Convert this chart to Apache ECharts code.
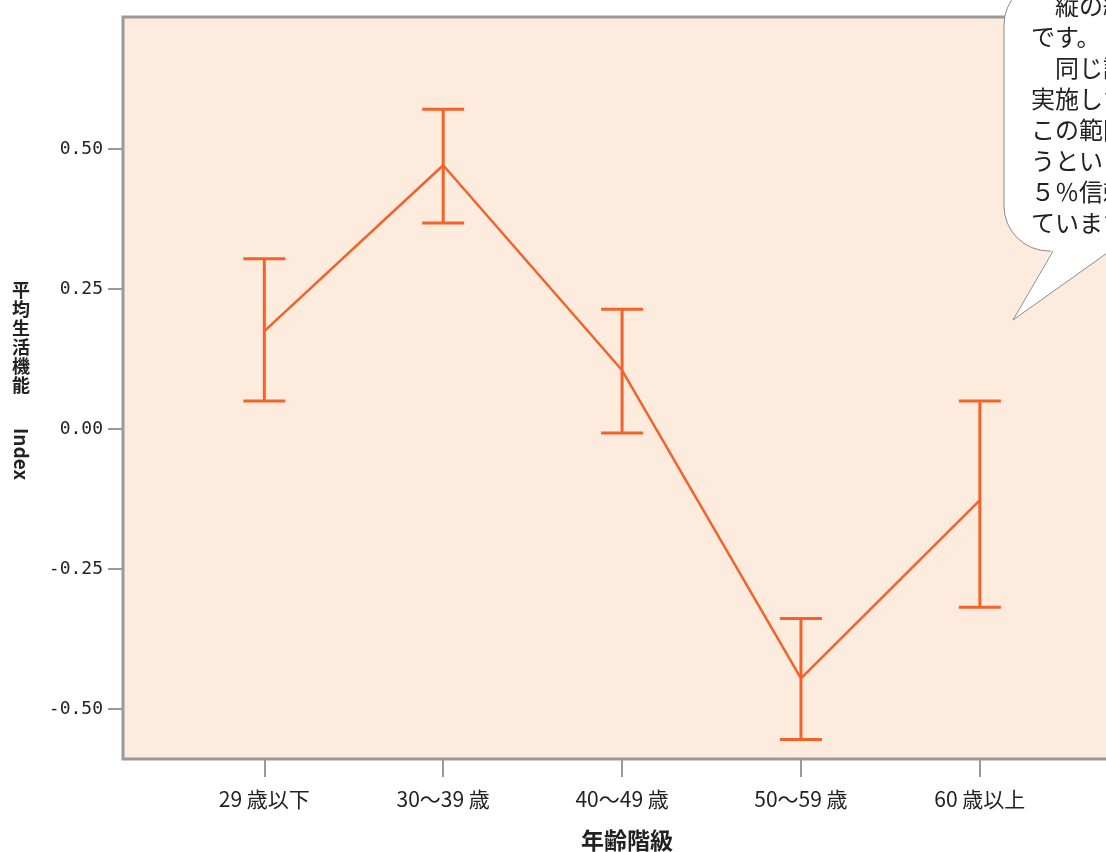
<!DOCTYPE html>
<html>
<head>
<meta charset="utf-8">
<script src="https://cdn.jsdelivr.net/npm/echarts@6/dist/echarts.min.js"></script>
<style>
  html, body { margin: 0; padding: 0; background: #fff; }
  #chart { width: 1106px; height: 852px; }
</style>
</head>
<body>
<div id="chart"></div>
<script>
// age groups and mean index with 95% CI
const categories = ['29 歳以下', '30〜39 歳', '40〜49 歳', '50〜59 歳', '60 歳以上']
const means = [0.175, 0.471, 0.105, -0.445, -0.127]
const ciLow = [0.050, 0.368, -0.007, -0.554, -0.318]
const ciHigh = [0.304, 0.571, 0.214, -0.338, 0.050]
const yTicks = [-0.5, -0.25, 0, 0.25, 0.5]
const bubbleLines = [
  '　縦の線は平均値の95％信頼区間',
  'です。',
  '　同じ調査を100回',
  '実施したら、95回は',
  'この範囲に平均値が入るだろ',
  'うという区間で、これを９',
  '５％信頼区間と呼んで表し',
  'ています。'
]

const orange = '#F4622A'
const chart = echarts.init(document.getElementById('chart'))

const meanData = means.map((v, i) => [i, v])
const ciData = categories.map((c, i) => [i, ciLow[i], ciHigh[i]])

const option = {
  animation: false,
  grid: {
    left: 123,
    top: 17,
    width: 1008,
    height: 742,
    outerBoundsMode: 'none',
    containLabel: false,
    show: true,
    backgroundColor: '#FDEBDE',
    borderColor: '#999999',
    borderWidth: 3
  },
  xAxis: {
    type: 'value',
    min: -0.79,
    max: 4.845,
    splitLine: { show: false },
    axisLine: { show: false, onZero: false },
    axisTick: {
      show: true,
      customValues: [0, 1, 2, 3, 4],
      length: 18,
      lineStyle: { color: '#999999', width: 2 }
    },
    axisLabel: {
      customValues: [0, 1, 2, 3, 4],
      formatter: v => categories[Math.round(v)],
      margin: 30,
      color: '#222',
      fontSize: 21,
      fontFamily: 'Noto Sans CJK JP'
    }
  },
  yAxis: {
    type: 'value',
    min: -0.589,
    max: 0.7357,
    splitLine: { show: false },
    axisLine: { show: false, onZero: false },
    axisTick: {
      show: true,
      customValues: yTicks,
      length: 15,
      lineStyle: { color: '#999999', width: 2 }
    },
    axisLabel: {
      customValues: yTicks,
      formatter: v => v.toFixed(2),
      margin: 20,
      color: '#222',
      fontSize: 18,
      fontFamily: 'DejaVu Sans Mono'
    }
  },
  series: [
    {
      type: 'line',
      data: meanData,
      showSymbol: false,
      symbol: 'none',
      lineStyle: { color: orange, width: 2.5 },
      z: 3
    },
    {
      type: 'custom',
      data: ciData,
      z: 4,
      renderItem(params, api) {
        const x = api.value(0)
        const lo = api.coord([x, api.value(1)])
        const hi = api.coord([x, api.value(2)])
        const half = 21
        const style = { stroke: orange, lineWidth: 3 }
        return {
          type: 'group',
          children: [
            { type: 'line', shape: { x1: hi[0], y1: hi[1], x2: lo[0], y2: lo[1] }, style },
            { type: 'line', shape: { x1: hi[0] - half, y1: hi[1], x2: hi[0] + half, y2: hi[1] }, style },
            { type: 'line', shape: { x1: lo[0] - half, y1: lo[1], x2: lo[0] + half, y2: lo[1] }, style }
          ]
        }
      }
    }
  ],
  graphic: [
    // axis titles
    {
      type: 'text',
      x: 627,
      y: 840,
      z: 10,
      style: {
        text: '年齢階級',
        fontSize: 23,
        fontWeight: 'bold',
        fontFamily: 'Noto Sans CJK JP',
        fill: '#222',
        align: 'center',
        verticalAlign: 'middle'
      }
    },
    {
      type: 'text',
      x: 21,
      y: 281,
      z: 10,
      style: {
        text: '平\n均\n生\n活\n機\n能',
        fontSize: 18,
        lineHeight: 19,
        fontWeight: 'bold',
        fontFamily: 'Noto Sans CJK JP',
        fill: '#222',
        align: 'center',
        verticalAlign: 'top'
      }
    },
    {
      type: 'text',
      x: 21,
      y: 428,
      rotation: -Math.PI / 2,
      z: 10,
      style: {
        text: 'Index',
        fontSize: 19,
        fontWeight: 'bold',
        fontFamily: 'Noto Sans CJK JP',
        fill: '#222',
        align: 'left',
        verticalAlign: 'middle'
      }
    },
    // speech bubble
    {
      type: 'rect',
      z: 20,
      shape: { x: 1004, y: -20, width: 200, height: 271, r: 45 },
      style: { fill: '#ffffff', stroke: '#8a8a8a', lineWidth: 1 }
    },
    {
      type: 'polygon',
      z: 21,
      shape: { points: [[1052, 249.5], [1013, 320], [1112, 249.5]] },
      style: { fill: '#ffffff' }
    },
    {
      type: 'polyline',
      z: 22,
      shape: { points: [[1053, 251], [1013, 320], [1110, 251]] },
      style: { fill: null, stroke: '#8a8a8a', lineWidth: 1 }
    },
    {
      type: 'text',
      x: 1031,
      y: -10,
      z: 23,
      style: {
        text: bubbleLines.join('\n'),
        fontSize: 24,
        lineHeight: 31,
        fontFamily: 'Noto Sans CJK JP',
        fill: '#222',
        align: 'left',
        verticalAlign: 'top'
      }
    }
  ]
}

chart.setOption(option)
</script>
</body>
</html>
